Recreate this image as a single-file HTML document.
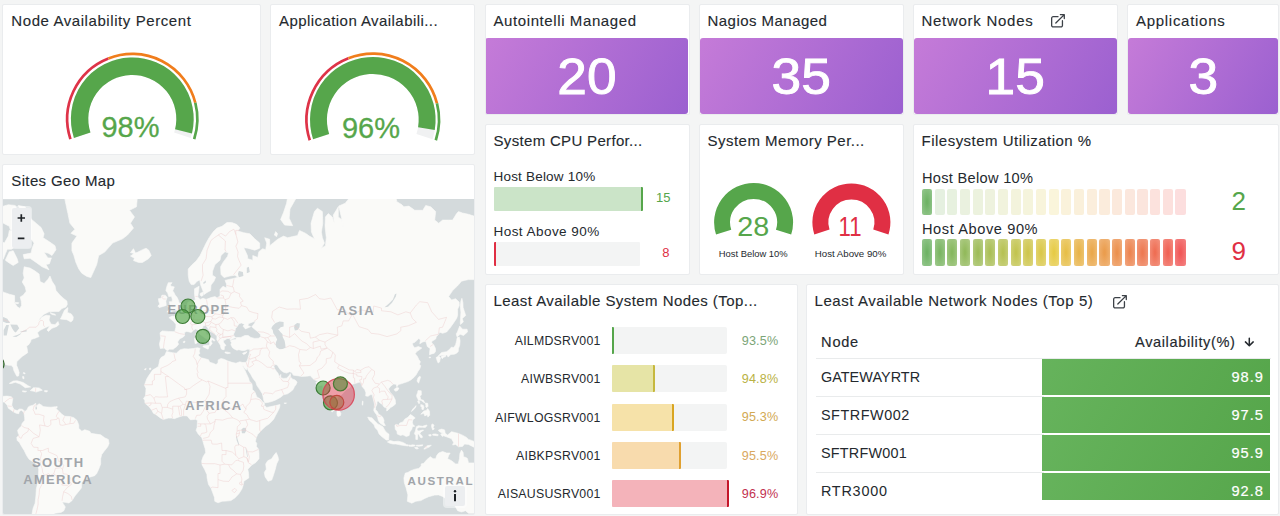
<!DOCTYPE html>
<html>
<head>
<meta charset="utf-8">
<title>Dashboard</title>
<style>
*{box-sizing:border-box;margin:0;padding:0}
html,body{width:1280px;height:516px;overflow:hidden;background:#f4f5f5;font-family:"Liberation Sans",sans-serif;color:#24292e}
.panel{position:absolute;background:#fff;border:1px solid #eaecee;border-radius:2px;overflow:hidden}
.title{position:absolute;left:8px;top:7px;font-size:15px;line-height:18px;color:#24292e;white-space:nowrap;-webkit-text-stroke:.12px #24292e}
.med{-webkit-text-stroke:.15px #24292e}
.abs{position:absolute}
.zb{background:#eceef0}
.zb svg{display:block}
.stat{position:absolute;left:0;right:0;top:33px;bottom:0;border-radius:3px;background:linear-gradient(120deg,#c57bd8,#9b60d0);color:#fff;text-align:center}
.stat span{position:absolute;left:.6px;right:0;top:9.5px;font-size:49.8px;line-height:58px;display:block;transform:scaleX(1.07);-webkit-text-stroke:.9px #fff}
.lbl{position:absolute;white-space:nowrap;color:#24292e}
svg text{font-family:"Liberation Sans",sans-serif}
</style>
</head>
<body>

<!-- Node Availability Percent -->
<div class="panel" style="left:2px;top:4px;width:259px;height:151px">
  <div class="title" style="left:8.3px;letter-spacing:0.577px">Node Availability Percent</div>
  <svg class="abs" style="left:-1px;top:-1px" width="258" height="151" viewBox="2 4 258 151">
    <g fill="none"><path d="M82.18 135.24A52.7 52.7 0 1 1 182.42 135.24" stroke="#f0f1f2" stroke-width="17.4"/><path d="M82.18 135.24A52.7 52.7 0 1 1 183.50 131.41" stroke="#56a64b" stroke-width="17.4"/><path d="M70.43 139.05A65.05 65.05 0 0 1 108.35 58.47" stroke="#de3348" stroke-width="2.7"/><path d="M108.35 58.47A65.05 65.05 0 0 1 195.31 102.77" stroke="#f07d1c" stroke-width="2.7"/><path d="M195.31 102.77A65.05 65.05 0 0 1 194.17 139.05" stroke="#56a64b" stroke-width="2.7"/></g>
    <text x="130.4" y="136.5" text-anchor="middle" font-size="29" fill="#56a64b" stroke="#56a64b" stroke-width=".3">98%</text>
  </svg>
</div>

<!-- Application Availability -->
<div class="panel" style="left:270px;top:4px;width:205px;height:151px">
  <div class="title" style="letter-spacing:0.435px">Application Availabili...</div>
  <svg class="abs" style="left:-1px;top:-1px" width="205" height="151" viewBox="270 4 205 151">
    <g fill="none"><path d="M321.11 136.60A54.35 54.35 0 1 1 424.49 136.60" stroke="#f0f1f2" stroke-width="16.9"/><path d="M321.11 136.60A54.35 54.35 0 1 1 426.43 128.64" stroke="#56a64b" stroke-width="16.9"/><path d="M309.79 140.27A66.25 66.25 0 0 1 348.41 58.20" stroke="#de3348" stroke-width="2.7"/><path d="M348.41 58.20A66.25 66.25 0 0 1 436.97 103.32" stroke="#f07d1c" stroke-width="2.7"/><path d="M436.97 103.32A66.25 66.25 0 0 1 435.81 140.27" stroke="#56a64b" stroke-width="2.7"/></g>
    <text x="371" y="138" text-anchor="middle" font-size="29" fill="#56a64b" stroke="#56a64b" stroke-width=".3">96%</text>
  </svg>
</div>

<!-- Sites Geo Map -->
<div class="panel" style="left:2px;top:164px;width:473px;height:351px">
  <div class="title" style="left:8.3px;letter-spacing:0.365px">Sites Geo Map</div>
  <div class="abs" style="left:0;top:33.5px;width:472px;height:316px;background:#d4dadc;overflow:hidden">
<svg style="position:absolute;left:0;top:0" width="472" height="316" viewBox="3 198.5 472 316">
<path d="M166.5 351.0L172.5 352.2L176.3 352.7L180.2 349.2L184.2 348.2L188.2 348.5L193.2 348.0L197.7 347.2L200.1 348.0L199.1 350.5L199.9 352.9L198.1 354.6L199.7 356.1L201.1 357.3L204.1 358.0L208.5 359.2L209.7 361.8L213.0 362.7L216.0 364.1L218.0 362.5L218.2 359.4L221.0 358.0L224.0 358.7L227.9 360.6L231.9 361.8L235.9 362.7L239.9 361.3L242.5 362.0L243.0 364.8L242.7 365.7L245.0 369.9L246.8 373.9L248.8 378.3L249.2 380.5L251.6 382.7L252.2 384.8L252.4 389.1L254.8 391.2L256.8 396.4L260.1 398.3L262.7 401.6L264.3 402.6L264.3 404.7L266.7 406.9L270.7 406.1L275.7 405.1L280.0 404.0L279.6 406.9L278.4 409.7L275.7 414.8L273.7 418.8L269.7 423.0L265.7 425.8L261.7 429.4L259.7 431.8L257.8 433.8L256.2 437.3L255.4 440.9L256.8 442.9L256.4 445.9L258.6 448.8L259.0 453.1L259.0 458.2L255.8 462.0L251.8 464.5L247.8 468.7L248.6 473.0L248.8 477.4L243.8 480.7L243.4 484.0L241.9 488.6L238.9 493.2L234.9 497.4L230.9 500.1L226.0 500.6L222.0 500.8L218.0 502.3L214.8 500.8L214.4 496.7L212.6 492.0L211.0 487.6L208.5 484.0L207.1 477.4L206.9 474.1L204.5 468.7L202.1 464.5L201.7 460.3L203.1 456.2L205.7 452.0L205.1 448.0L204.1 444.9L202.7 439.9L201.7 436.9L198.1 433.4L196.1 429.8L197.1 426.8L197.3 422.8L197.5 420.0L195.5 418.8L192.2 419.2L190.2 419.2L187.2 415.4L183.2 415.2L180.2 416.0L176.3 417.4L174.3 418.2L171.9 417.6L168.3 417.6L163.3 419.0L160.3 417.4L156.4 414.4L153.4 412.8L151.8 409.7L149.4 406.7L148.0 405.3L145.0 402.8L144.8 399.9L143.5 398.1L145.4 395.4L145.8 391.2L146.0 388.0L144.4 384.8L145.4 382.0L146.8 378.3L148.8 375.0L150.4 372.8L152.6 369.6L156.0 367.6L158.4 366.0L159.0 363.0L159.8 359.0L161.3 356.8L164.7 355.1ZM276.2 452.0L278.0 456.2L278.6 459.3L276.6 463.4L275.3 468.7L273.3 475.2L271.7 479.6L268.1 480.7L265.1 476.3L264.3 471.9L266.3 468.7L265.7 463.4L267.7 460.3L271.7 458.2L273.7 455.1ZM160.3 348.0L159.4 343.7L160.7 337.7L160.0 332.3L162.3 330.4L168.3 330.9L174.7 331.2L175.9 326.7L175.9 323.9L173.7 321.0L168.9 317.1L172.3 315.6L175.3 315.9L175.1 312.8L178.6 313.4L181.4 309.7L185.2 307.5L186.8 304.9L188.0 301.6L192.2 300.6L195.3 299.5L194.5 293.7L194.5 288.3L199.1 285.7L198.7 290.1L198.1 293.7L197.7 296.5L200.1 298.9L203.1 297.8L206.1 298.9L211.0 297.1L215.0 296.1L217.0 297.5L220.0 295.4L220.0 289.0L223.0 285.7L226.5 287.5L226.5 283.4L225.0 279.9L229.9 278.7L233.9 277.9L237.9 276.7L234.9 274.7L229.9 275.5L224.0 277.1L221.0 273.9L220.6 266.3L223.0 261.9L227.5 255.9L228.5 252.6L225.0 251.2L221.0 255.0L220.0 259.7L215.0 264.1L212.6 270.6L212.4 274.7L215.6 276.7L214.0 280.7L211.0 284.5L210.6 290.1L207.1 291.9L204.1 294.0L203.1 290.8L200.7 284.5L199.7 279.5L197.1 280.7L194.1 284.1L191.2 284.1L189.2 280.7L188.2 274.7L188.2 268.5L192.2 264.1L196.1 260.6L200.1 255.0L203.1 248.7L206.1 242.6L209.1 237.2L213.0 231.6L217.0 227.6L222.0 225.8L226.9 222.1L231.9 222.1L236.9 224.0L239.9 227.6L237.9 230.5L243.8 232.2L249.8 233.3L254.8 238.3L259.7 242.6L259.7 247.7L254.8 249.7L247.8 247.7L243.8 247.2L247.4 255.0L247.8 258.3L252.8 259.7L252.8 255.0L257.8 256.9L258.8 251.2L262.7 248.2L265.7 249.2L266.7 242.6L264.7 237.2L269.7 238.8L269.7 245.2L273.7 242.0L277.6 238.8L283.6 235.6L287.6 237.2L292.6 236.1L297.5 235.0L299.5 229.9L305.5 232.8L309.4 235.6L314.4 238.3L311.4 231.6L311.0 222.7L314.4 211.1L317.4 207.7L322.4 211.1L322.8 222.7L321.4 231.6L322.4 237.2L324.4 242.6L321.4 247.7L325.4 245.2L326.3 237.2L325.0 225.8L325.4 216.4L328.3 213.1L332.3 216.4L334.3 222.7L333.3 214.5L338.3 206.3L338.3 216.4L342.2 219.6L343.2 225.8L341.3 216.4L338.7 205.6L345.2 202.7L351.2 195.2L357.2 187.2L377.0 169.4L389.0 178.6L395.5 195.2L396.9 201.2L401.9 204.2L403.9 206.3L408.8 205.6L414.8 209.8L422.8 209.8L425.7 204.9L430.7 206.3L435.7 211.1L434.7 219.6L438.7 222.7L442.6 219.6L448.6 219.6L452.6 219.6L456.6 213.1L458.5 211.1L462.5 212.5L468.5 213.8L476.4 216.4L476.4 279.1L468.5 279.1L464.5 279.9L461.5 280.7L457.6 285.3L452.6 290.1L448.6 296.1L451.6 299.5L455.6 298.2L459.1 301.6L459.3 304.9L457.6 308.7L457.6 315.0L456.6 318.0L453.6 322.4L449.6 328.1L446.6 331.5L442.6 332.8L439.7 331.7L438.1 334.2L436.3 336.3L435.7 338.5L431.9 340.8L431.7 342.4L433.5 343.9L435.5 348.0L435.5 351.0L434.3 352.7L431.7 353.4L429.5 354.2L429.7 351.0L430.1 348.0L427.3 346.0L426.7 343.7L425.7 340.8L422.8 341.4L419.8 343.2L420.4 339.5L418.8 337.9L415.2 341.6L412.2 342.9L413.2 345.5L414.8 347.2L418.4 346.0L421.8 347.5L419.8 349.0L416.8 351.0L415.2 353.2L417.4 355.9L418.8 359.0L420.4 361.3L419.4 363.7L420.8 365.3L419.8 368.3L417.8 371.2L416.0 374.6L413.8 377.0L410.8 379.4L407.9 381.1L404.9 382.0L401.9 383.1L398.5 384.0L396.9 386.3L396.1 383.7L393.5 383.5L390.4 385.9L388.6 388.4L390.0 391.8L393.3 395.4L395.3 399.5L395.5 403.6L392.9 405.7L390.6 407.1L388.0 409.7L386.6 410.4L386.8 407.7L384.0 406.5L382.4 404.0L379.6 402.2L378.4 400.6L377.0 401.0L377.0 403.6L375.6 406.7L375.6 409.3L377.4 411.0L378.6 413.8L380.6 414.8L382.8 416.8L384.0 419.8L383.8 422.2L385.4 425.0L383.8 425.2L380.0 422.6L378.4 420.2L377.6 416.8L376.6 414.2L374.5 411.4L373.7 409.7L374.3 406.7L374.5 403.6L373.5 399.5L372.7 396.4L372.3 394.1L370.1 394.3L368.1 395.8L365.7 395.4L365.9 392.2L364.7 389.1L362.1 385.9L361.1 383.3L360.1 381.6L358.2 382.0L355.2 383.1L352.2 383.7L351.0 385.2L349.8 387.2L347.2 388.4L344.2 391.2L341.9 393.9L339.1 395.8L337.5 397.5L337.7 400.6L337.1 403.6L336.9 407.1L335.7 409.1L333.7 409.9L332.3 411.6L330.3 409.7L329.3 406.7L327.3 402.6L326.3 398.5L324.4 395.4L323.4 391.6L323.0 388.7L322.8 384.8L321.4 384.8L319.4 385.2L317.8 384.8L315.8 382.0L318.0 380.5L314.4 379.4L312.2 377.2L310.4 375.2L306.5 375.7L301.5 375.9L297.5 375.2L293.5 374.8L291.6 372.1L289.6 371.2L286.6 372.6L283.6 371.7L280.6 369.6L278.6 366.7L277.2 364.4L275.3 364.1L273.7 365.3L274.7 368.3L276.6 371.0L278.0 372.8L279.2 376.1L280.8 373.9L280.8 377.2L283.6 377.9L286.6 377.7L289.6 374.6L290.4 373.2L290.6 376.6L292.6 378.7L295.1 379.4L297.1 381.6L296.1 384.0L294.5 386.1L293.1 389.1L290.6 391.2L287.6 393.3L283.6 394.3L280.6 396.8L275.7 399.5L271.7 401.0L267.7 402.0L264.7 402.2L263.7 399.5L263.1 396.4L262.3 393.3L259.7 389.1L256.8 384.8L255.8 381.6L252.8 377.7L250.8 373.9L247.8 369.4L247.4 366.0L246.4 369.4L244.4 367.6L243.0 365.0L242.7 362.0L246.2 361.8L247.4 359.7L248.0 357.8L249.0 354.2L249.8 351.0L249.8 348.7L247.4 348.7L244.8 350.0L241.9 350.0L238.9 349.2L236.9 349.7L234.3 348.5L232.5 347.2L230.9 344.2L231.5 342.1L230.3 340.3L232.9 339.3L235.9 339.0L236.3 337.1L240.9 336.9L244.8 335.0L248.2 335.0L250.8 336.9L254.8 337.9L258.8 337.7L260.9 336.1L260.3 333.7L257.4 330.9L253.8 328.1L251.8 326.2L254.2 323.3L255.8 320.4L252.8 321.5L248.8 323.0L247.8 325.0L250.6 326.2L248.2 327.3L245.4 328.4L243.0 325.6L244.6 323.9L241.5 322.4L238.9 323.3L237.3 325.9L235.5 328.1L234.9 330.9L233.5 333.7L234.3 336.1L235.9 337.1L233.9 337.7L231.9 338.7L230.3 339.5L229.9 338.2L227.9 337.9L226.0 338.5L225.0 339.8L223.6 339.0L223.4 341.6L224.4 342.9L226.0 345.0L224.4 346.0L224.2 349.2L222.8 349.2L221.4 348.5L220.6 346.2L220.4 344.7L219.4 343.2L218.0 341.1L216.8 339.0L217.0 336.1L216.0 334.5L213.0 332.3L210.0 330.6L208.1 328.1L207.1 326.2L205.5 325.0L202.9 325.6L202.9 328.7L205.3 330.9L206.5 333.9L210.0 335.3L210.0 336.6L214.0 338.7L215.0 340.0L214.0 340.6L212.0 339.0L211.2 341.1L212.2 342.9L211.0 344.4L210.0 345.7L209.5 345.2L209.7 341.6L208.7 340.0L206.7 338.5L204.1 337.1L202.5 335.5L200.1 333.9L199.1 332.3L198.5 329.8L195.7 328.4L193.2 330.1L191.2 332.0L188.2 331.2L186.2 330.9L184.4 332.3L184.6 335.3L182.6 336.9L179.8 338.2L177.6 341.6L178.6 343.7L176.8 346.0L174.7 347.5L173.3 348.7L169.5 348.7L167.5 350.2L165.7 349.0L164.3 347.5ZM166.9 311.6L171.3 310.9L175.3 309.7L179.2 309.4L181.0 308.1L179.8 307.1L181.6 303.6L179.0 302.2L178.6 300.2L177.2 297.1L175.1 294.4L173.9 291.9L172.7 290.4L174.3 286.4L171.3 285.7L170.3 284.5L172.1 282.2L168.3 282.2L166.7 286.4L165.9 290.1L167.7 292.6L168.7 296.1L171.5 295.8L172.3 298.9L172.1 301.2L169.3 301.2L169.9 304.2L167.9 306.2L171.3 307.5L172.3 308.1L169.3 308.7ZM166.3 304.9L165.9 300.6L167.1 296.8L165.3 294.7L161.9 294.7L161.1 297.8L158.4 298.2L158.8 301.2L159.8 303.6L157.8 305.5L159.2 307.1L162.3 306.2ZM133.5 260.1L138.5 261.9L142.5 261.9L148.4 258.3L151.2 255.0L148.8 249.7L146.0 247.7L141.5 249.7L137.9 251.6L135.5 252.6L133.5 248.2L130.5 252.1L134.1 253.1L130.5 255.5L134.5 257.8ZM90.8 277.1L93.8 270.6L96.7 264.1L98.7 255.0L104.7 251.6L112.6 242.6L122.6 238.3L127.5 234.5L133.5 227.6L130.5 222.7L134.5 216.4L129.5 209.8L136.5 206.3L137.5 195.2L138.5 159.3L43.1 159.3L39.1 187.2L47.0 188.9L60.9 191.3L64.9 199.0L67.9 213.1L69.9 222.7L74.9 228.7L70.9 232.8L76.9 235.6L71.9 242.6L71.9 250.2L73.9 255.0L75.9 261.9L78.8 268.5L81.8 272.7L86.8 275.9ZM-4.7 364.1L5.3 363.9L8.3 364.8L11.2 364.8L13.2 367.1L13.8 369.9L15.2 372.8L16.8 375.7L18.6 375.4L19.2 372.1L18.0 368.3L16.6 364.8L16.8 361.3L19.2 358.7L22.2 355.9L25.2 353.9L27.7 352.2L27.2 348.5L26.6 345.5L28.7 344.2L30.7 341.1L31.1 339.0L35.1 337.7L39.1 336.1L38.1 333.7L37.5 332.3L40.1 329.8L44.6 327.6L47.0 326.4L50.0 325.3L47.0 329.5L48.4 330.9L52.0 327.8L57.0 325.9L59.0 323.9L58.0 321.0L55.0 324.2L51.0 323.6L49.0 319.5L50.0 315.3L46.0 314.7L42.1 316.5L38.1 321.0L40.1 317.4L44.1 313.7L49.0 311.3L55.0 310.9L59.0 310.9L61.9 308.1L65.9 306.5L67.3 303.9L66.9 300.6L63.9 298.2L60.0 294.7L56.0 290.1L55.0 285.3L52.0 280.7L50.0 275.5L48.0 278.7L44.1 283.0L40.1 281.1L39.1 273.5L35.1 270.6L30.1 267.6L24.2 266.3L23.2 272.7L24.2 277.5L22.2 281.5L25.2 286.4L26.2 290.8L23.2 294.7L20.2 296.5L21.2 300.6L21.6 304.9L19.8 307.8L17.2 306.2L14.6 302.2L14.6 295.1L9.3 293.7L4.3 291.9L-4.7 288.3ZM60.4 318.6L66.9 319.2L70.9 321.5L72.9 319.5L73.3 316.5L71.3 313.4L67.5 311.9L67.9 307.1L64.5 309.7L61.9 315.6ZM49.0 269.3L42.1 266.3L36.1 261.9L30.1 257.8L24.2 258.3L23.2 254.1L31.1 252.6L32.1 247.7L34.1 242.6L30.1 237.2L24.2 230.5L21.2 228.7L16.2 229.3L10.3 229.3L9.3 225.8L3.3 222.7L0.3 216.4L1.3 206.3L8.3 204.2L15.2 204.9L18.2 211.1L23.2 210.4L27.2 213.1L31.1 218.4L36.1 222.7L41.1 227.0L44.1 233.3L43.1 237.2L49.0 241.0L55.0 245.2L56.0 249.2L52.0 255.0L48.0 252.6L44.1 252.1L48.0 257.4L51.4 257.4L49.4 263.3L46.0 264.1ZM5.3 259.7L9.3 251.2L13.2 250.2L17.2 258.3L18.2 261.9L13.2 265.0L8.3 261.9ZM-4.7 259.7L3.3 258.7L5.7 252.6L7.3 248.7L11.6 248.7L16.2 245.2L16.4 237.2L15.2 230.5L9.3 229.9L8.3 235.6L4.3 242.6L-4.7 237.2ZM-4.7 198.3L19.2 198.3L19.2 159.3L-4.7 159.3ZM9.3 382.9L13.2 380.5L17.2 380.3L23.2 382.0L28.1 385.2L30.7 386.5L25.2 387.2L23.2 385.7L20.2 383.5L15.2 381.8L11.2 383.1ZM30.3 390.1L33.5 387.2L39.1 387.4L42.3 389.7L39.1 390.6L36.1 391.6L34.1 390.8ZM22.6 390.3L26.6 390.8L25.2 391.6L22.6 391.2ZM44.6 390.1L47.6 390.3L47.0 391.4L44.6 391.2ZM-4.7 401.0L4.3 401.6L7.3 404.7L8.3 407.7L11.2 409.7L13.2 411.2L16.2 412.8L18.8 413.2L19.2 411.2L21.2 409.7L23.2 411.2L24.2 413.8L24.6 416.8L24.8 419.8L22.2 422.8L21.2 425.8L19.2 427.8L17.6 429.8L18.2 432.8L19.2 434.5L16.8 436.9L17.2 439.9L19.6 442.3L21.6 445.9L24.2 450.0L26.6 455.1L29.1 458.8L34.1 462.0L38.1 465.1L38.7 468.7L38.5 475.2L37.9 481.8L36.3 488.6L35.9 495.5L35.1 502.7L33.1 507.7L32.1 512.8L31.5 523.4L49.0 523.4L53.0 518.0L54.6 512.8L60.9 512.0L63.9 510.2L65.3 506.4L62.1 501.5L64.9 501.8L68.9 502.5L71.9 500.3L74.9 495.5L77.8 492.0L81.4 487.4L81.8 481.8L84.8 478.5L88.8 476.9L94.7 475.2L96.7 473.0L98.7 468.7L100.7 463.4L100.7 458.2L101.7 454.1L104.3 450.6L107.7 446.3L109.1 442.9L108.3 438.9L104.7 437.3L100.7 434.3L95.7 433.6L90.8 432.8L89.8 430.8L84.8 429.2L81.8 430.8L78.8 427.8L78.8 424.4L76.9 419.8L73.9 417.2L69.9 416.0L64.9 415.8L61.9 413.8L59.0 410.8L56.0 408.1L55.0 406.3L51.0 406.7L47.0 406.5L43.1 406.1L42.1 404.9L39.1 403.2L36.1 405.7L35.7 402.8L33.1 404.7L29.5 405.7L28.1 406.7L27.2 409.1L25.2 410.8L24.4 410.4L22.2 408.7L19.6 408.5L17.2 410.1L14.8 409.3L13.2 407.7L11.8 404.7L12.2 401.6L12.8 397.7L11.2 396.2L7.3 395.6L3.3 395.8L-4.7 395.4ZM405.3 472.6L403.9 477.4L404.3 482.2L406.1 487.4L407.9 494.4L407.3 500.8L411.8 502.7L415.8 500.8L420.8 500.1L424.8 497.9L428.7 496.2L434.7 494.6L438.7 494.4L442.6 496.0L445.6 497.9L447.6 502.3L449.6 503.2L451.6 497.9L452.6 501.5L453.6 504.0L455.6 506.4L457.6 510.2L461.5 511.5L465.5 510.2L468.5 512.8L480.4 512.8L480.4 462.4L468.5 462.4L467.5 458.2L466.5 457.2L463.5 456.2L463.1 452.0L461.5 449.6L459.9 453.1L459.5 458.2L458.2 463.4L455.6 463.4L451.6 460.3L447.6 458.2L448.6 455.1L450.2 452.5L446.6 452.5L442.6 451.0L438.7 452.5L436.7 455.1L435.7 458.2L433.1 458.2L430.3 456.2L426.7 459.3L423.8 462.8L421.2 463.4L421.2 465.5L418.8 467.9L414.8 468.7L410.8 470.2L407.9 471.9ZM336.9 408.5L337.9 408.5L339.7 410.8L340.9 413.0L340.5 415.0L338.5 415.9L337.3 415.4L336.9 412.8L337.1 410.4ZM367.7 416.6L372.1 417.4L374.5 420.2L377.8 423.4L380.0 424.4L383.0 426.4L384.6 429.4L386.0 431.4L389.0 433.8L388.6 439.5L386.2 439.5L382.0 436.3L379.0 433.4L377.6 429.8L375.1 427.2L374.1 424.2L371.5 421.8L369.1 419.4ZM387.4 441.5L390.0 439.9L393.9 441.1L398.3 440.7L402.3 441.7L405.9 443.5L405.7 445.3L400.9 444.5L395.9 443.5L392.9 443.5L389.8 442.7ZM405.9 444.3L408.3 444.3L408.1 445.5L406.1 445.3ZM408.8 444.5L410.2 444.5L410.0 445.7L408.8 445.7ZM410.4 444.7L412.8 444.3L415.2 444.7L414.8 445.5L411.8 445.9L410.4 445.9ZM416.4 444.7L418.8 444.7L422.8 444.3L422.4 445.3L418.8 445.7L416.4 445.5ZM414.8 447.0L417.2 446.7L418.4 448.0L416.8 448.6L414.8 447.6ZM423.8 448.6L425.7 446.3L427.7 445.1L431.3 444.7L429.7 446.3L426.7 447.6L424.8 448.6ZM394.9 424.8L396.1 423.8L398.9 424.8L399.7 422.6L402.9 421.4L404.9 418.6L407.9 416.8L410.4 414.0L411.8 414.8L415.2 417.4L412.8 419.2L412.4 421.8L412.8 423.8L414.8 425.8L412.4 426.2L411.8 428.8L409.8 431.4L409.2 434.9L406.3 436.1L402.9 434.3L400.5 434.9L397.3 433.6L396.9 430.8L395.3 428.8ZM416.4 426.2L418.4 425.2L422.4 425.8L426.3 424.6L427.1 425.0L425.3 427.0L422.8 426.8L419.4 426.8L417.2 427.8L417.0 429.4L418.8 430.6L422.4 429.6L423.6 429.8L420.8 431.4L419.8 433.2L421.4 434.5L422.6 436.7L421.0 437.5L419.8 435.9L418.6 433.4L417.6 434.3L417.6 438.9L415.8 438.9L415.8 434.9L414.4 433.2L415.4 430.4ZM418.0 390.1L421.2 390.3L421.4 394.3L420.0 395.8L420.8 399.1L423.4 399.7L424.8 402.4L423.2 401.6L421.8 400.3L420.2 399.7L418.2 399.9L418.0 398.5L416.8 396.4L416.6 394.8L417.6 392.2ZM420.8 413.8L423.8 410.6L426.3 409.9L427.7 408.1L429.5 410.8L429.7 414.8L427.9 416.6L427.3 414.2L424.8 415.4L423.8 412.8ZM425.3 402.6L427.7 402.8L428.1 405.7L426.7 407.3L425.7 406.1L425.9 404.7ZM420.8 404.0L423.2 404.7L424.0 406.7L423.2 409.3L421.8 408.7L422.0 406.7L420.8 406.1ZM411.4 411.0L413.8 409.1L415.8 406.5L416.0 405.1L414.8 406.5L412.8 408.5ZM417.6 400.8L419.4 400.8L419.8 402.6L418.8 403.2L418.2 402.0ZM419.8 375.7L420.6 376.6L418.6 382.7L417.0 380.5L418.0 377.2ZM394.3 388.7L396.9 387.0L398.9 387.6L397.9 389.7L395.9 390.8L394.3 389.7ZM436.1 357.1L438.7 355.6L440.5 357.3L439.5 361.6L438.1 362.5L437.1 360.1ZM441.7 355.4L445.6 354.6L445.6 356.1L443.6 356.8L442.2 358.2L441.3 356.8ZM438.5 355.1L441.7 352.0L446.6 351.2L450.0 348.5L451.2 346.7L453.8 347.0L455.6 344.2L456.6 340.3L457.2 337.1L459.3 336.6L460.1 340.3L459.7 344.7L458.5 348.0L458.2 351.2L456.2 352.9L454.2 353.7L450.6 353.9L450.2 354.6L448.2 356.6L446.8 354.4L442.6 354.6L438.7 355.6ZM457.0 336.3L456.2 333.4L457.4 331.5L459.7 325.6L462.5 328.7L467.1 328.7L467.5 331.5L463.5 335.0L460.1 333.7L458.3 335.5ZM460.5 323.9L463.3 321.5L462.3 318.0L465.7 315.0L463.1 307.1L462.9 302.2L461.9 297.8L460.9 300.6L460.3 305.5L460.9 311.9L460.5 318.0L460.3 322.4ZM438.7 429.4L441.7 428.6L444.6 429.4L445.2 432.8L447.6 434.5L451.6 431.2L455.6 432.2L458.5 433.0L462.5 434.7L466.5 436.9L468.5 438.9L471.5 439.9L476.4 441.9L476.4 448.0L468.5 443.9L464.5 443.5L462.5 445.9L458.5 446.3L455.6 443.9L452.6 444.5L453.6 441.9L451.6 438.3L447.6 436.7L443.6 435.3L442.2 435.9L440.7 433.6L443.6 432.6L441.3 432.2L438.7 430.6ZM431.7 424.0L432.7 423.4L434.1 424.8L433.1 426.8L434.3 428.4L432.7 429.4L431.9 427.4L431.5 425.8ZM432.7 433.6L435.7 433.4L438.3 434.3L437.7 435.3L434.7 434.9L432.7 434.7ZM428.7 434.3L431.1 434.1L431.1 435.5L429.1 435.5ZM202.9 345.5L205.1 345.0L209.3 344.7L208.5 348.0L208.1 348.7L203.3 346.5ZM194.5 337.7L197.3 337.1L197.7 340.3L197.1 342.6L195.1 343.2L194.7 340.3ZM195.3 333.7L196.9 332.3L197.1 335.0L196.5 336.6L195.5 335.5ZM225.0 351.5L227.9 351.7L230.5 352.5L227.9 353.2L225.2 352.5ZM242.5 352.9L243.8 352.2L247.0 351.2L245.8 352.9L243.8 353.9ZM200.1 292.9L203.1 291.5L203.3 294.7L201.7 295.8L200.1 294.7ZM280.6 219.0L284.6 224.6L292.7 225.2L289.2 217.7L290.0 208.4L294.5 200.5L301.5 188.9L313.4 178.6L290.6 178.6L286.6 202.7L283.6 211.8ZM274.3 234.5L276.6 236.1L277.6 233.3L275.7 231.1ZM50.0 312.2L55.0 313.7L55.6 314.7L52.0 314.0ZM284.2 402.4L286.6 402.4L286.0 403.0L284.4 403.0ZM144.6 368.5L146.2 368.0L145.6 369.4L144.8 369.4ZM149.4 367.8L150.8 367.6L150.6 369.2L149.6 369.2ZM183.0 341.4L185.0 340.6L184.6 342.1L183.4 342.1ZM55.2 406.3L57.2 406.1L57.0 407.5L55.2 407.5ZM15.2 301.9L18.8 302.2L18.2 303.2L15.6 302.9ZM22.6 375.9L23.8 376.1L24.0 378.3L22.8 377.9ZM23.4 372.1L25.2 372.6L24.8 373.4L23.2 372.8ZM362.5 400.6L363.1 401.0L362.7 404.7L362.1 404.2ZM429.1 356.6L430.5 356.6L430.5 357.3L429.1 357.3ZM18.2 204.9L25.2 206.3L26.6 210.4L21.2 211.1Z" fill="#fafaf8" stroke="#fafaf8" stroke-width=".6" stroke-linejoin="round"/>
<path d="M272.7 325.3L275.7 322.4L279.6 321.0L283.6 321.5L283.6 325.9L280.6 326.7L279.6 328.1L278.2 328.7L280.6 331.7L282.6 333.7L282.6 336.3L283.6 338.2L284.6 340.3L285.2 343.4L285.6 347.2L282.6 348.5L279.6 348.7L276.6 347.0L275.5 344.2L276.0 341.6L277.2 339.0L275.3 335.5L273.3 332.8L272.7 329.5L271.3 327.8ZM294.5 324.4L297.1 322.4L299.9 323.0L299.5 326.7L297.5 329.5L294.9 330.1L294.1 327.3ZM384.6 306.8L388.0 306.2L392.0 302.2L395.9 296.1L396.5 292.9L394.9 293.7L392.9 298.9L389.0 302.9L386.0 305.5ZM-4.9 321.8L-0.7 318.6L3.3 316.5L7.3 318.3L10.1 322.4L6.3 322.4L3.3 321.2L-0.7 322.1ZM3.7 335.0L6.7 335.0L8.9 324.4L6.3 324.4L3.7 329.5ZM10.3 323.9L17.2 324.2L19.2 327.8L15.8 332.0L14.2 330.9L12.2 328.1ZM12.4 336.1L17.2 334.5L21.4 332.6L20.2 333.9L16.2 336.6ZM19.6 331.5L26.6 329.2L26.6 330.9L21.2 331.7ZM241.5 428.8L243.4 427.2L245.8 427.4L246.2 430.2L244.8 432.8L241.9 432.8ZM238.9 276.7L243.4 275.5L242.9 271.4L238.9 270.6L237.9 273.5ZM246.8 272.7L249.8 271.4L248.8 266.3L246.8 267.2ZM236.3 434.9L237.1 436.9L239.3 444.3L238.7 444.9L236.7 439.9L236.1 436.3ZM245.8 447.2L247.0 451.0L247.8 456.6L247.2 456.6L246.4 452.0L245.6 448.0ZM203.1 282.2L205.7 279.9L205.9 281.9L203.7 283.4ZM35.5 406.1L36.7 406.1L37.1 408.7L35.5 409.1Z" fill="#d4dadc"/>
<path d="M173.9 352.7L174.9 357.8L175.9 359.7L172.3 361.1L170.9 362.7L167.3 365.0L160.9 367.8L160.9 370.1M160.9 370.1L160.9 373.9L154.4 373.9L154.4 379.4L152.4 380.5L152.4 384.2L144.4 384.2M160.9 371.0L168.7 376.1L181.8 385.7L184.6 387.4L184.8 389.1L186.6 388.9L186.6 393.5M168.7 376.1L165.3 376.1L167.3 394.3L167.7 396.4L159.4 396.6L155.4 396.2L154.0 397.9M154.0 397.9L150.4 394.1L145.4 395.4M154.0 397.9L155.6 402.8L151.0 402.4L145.0 402.8M155.6 402.8L160.7 402.8L162.3 407.3L163.1 406.9L167.3 406.9M148.4 405.7L151.0 404.2L151.0 402.4M151.8 409.7L156.4 407.7L157.8 410.8L155.4 414.0M157.8 410.8L161.3 412.6L163.3 419.0M162.3 407.3L161.7 412.6M184.8 389.1L189.8 388.0L193.2 385.2L202.1 379.4L206.5 381.4L208.1 380.5L226.0 388.0M195.3 348.2L194.7 352.9L193.2 355.9L196.1 359.9L197.1 364.1L197.9 364.8L196.9 368.5L198.1 372.1L197.1 373.2L198.1 377.2L202.1 379.4M201.1 357.3L198.7 360.9L197.1 364.1M227.9 361.1L227.9 382.7L227.9 387.0L226.0 387.0L226.0 396.0M227.9 382.7L251.6 382.7M208.1 380.5L210.0 385.9L209.1 393.7L205.3 400.1L206.5 402.6M226.0 396.0L223.0 399.5L223.8 405.1L223.8 405.9M185.4 404.2L186.4 400.6L192.2 401.6L196.1 402.0L202.1 401.2L205.3 400.1M186.6 393.5L185.2 396.4L179.2 397.5L178.6 397.7L174.3 399.1L169.7 401.2L167.7 404.0L167.3 406.9M167.3 406.9L172.7 408.7L172.7 405.7L177.2 405.7L180.0 405.7L183.0 403.8L185.4 404.2M178.6 397.7L182.6 402.8L183.0 403.8M172.7 408.7L172.9 412.0L171.9 414.8L172.5 417.6M178.2 405.7L179.2 410.8L179.6 414.2L180.6 415.6M180.0 405.7L181.4 409.7L181.6 415.4M185.4 404.2L183.6 409.7L183.6 415.0M195.3 418.2L196.7 414.8L200.5 414.6L203.1 410.8L205.7 405.7L206.5 402.6M206.5 402.6L208.3 407.7L205.9 408.5L209.1 412.8L207.1 415.8L207.5 418.6L210.4 423.4M209.1 412.8L215.2 411.8L216.0 409.7L220.0 408.7L223.8 405.9L225.4 410.4L228.3 412.2L232.7 417.4M210.4 423.4L215.2 420.8L215.2 419.0L222.8 419.6L227.9 417.8L232.7 417.4M225.4 410.4L227.9 407.1L233.9 408.9L237.9 407.1L242.9 403.6L244.2 406.3L246.0 408.7M255.0 391.2L251.8 393.3L250.8 398.9L250.0 402.2L246.0 406.1L246.0 408.7L243.8 411.8L247.2 414.4L248.4 417.0L249.6 418.6M250.8 398.9L255.8 398.3L259.4 399.1L262.5 402.6M262.5 402.6L261.3 405.7L263.3 405.9L264.3 404.7M263.3 405.9L263.7 408.7L265.7 409.7L271.7 411.8L273.7 411.8L267.7 417.8L261.7 419.4L259.7 420.0L256.8 421.0L249.8 419.0L249.6 418.6M273.7 411.8L275.7 408.7L275.7 405.1M259.7 420.0L259.7 429.6L260.7 431.2M232.7 417.4L236.9 419.0L239.5 420.8L239.9 420.4L245.8 419.4L249.6 418.6M245.8 419.4L247.8 424.4L245.8 427.4L245.6 429.8M245.6 429.8L253.2 434.1L256.2 437.3M239.5 420.8L240.5 423.4L237.3 426.2L237.1 430.6L236.3 433.4L236.3 434.7L236.7 436.9M245.6 429.8L238.9 429.8L239.5 432.6L238.7 435.5L236.7 436.9M237.1 430.6L238.9 429.8M236.3 433.4L239.5 432.6M239.5 444.3L243.6 446.7L245.8 447.0L247.6 451.2L252.8 451.4L258.6 448.8M239.5 444.3L235.7 444.9L234.7 446.5L235.1 450.0L235.9 454.9L232.3 451.6L226.0 450.0L226.0 454.1L222.0 454.1L222.0 460.7L224.8 463.7M202.7 439.9L204.1 439.7L211.2 439.7L212.0 443.5L217.0 443.7L221.6 442.5L222.0 450.0L226.0 450.0M203.1 437.9L205.1 437.5L208.7 436.5L210.4 431.8L213.6 428.8L214.0 424.8L215.2 420.8M197.7 423.2L200.7 423.4L204.7 423.4L210.4 423.4M197.7 425.8L200.7 425.8L200.7 423.4M200.3 435.7L201.7 432.8L204.1 432.6L206.9 431.6L206.5 428.6L205.9 425.0L204.7 423.4M201.7 463.0L206.1 463.2L214.8 463.2L220.0 464.5L224.8 463.7L228.5 464.1M220.0 464.5L220.0 473.0L218.0 473.0L218.0 479.1L218.0 487.2L212.0 486.5L211.0 487.6M218.0 479.1L223.4 480.7L228.9 480.9L231.9 476.5L236.7 473.4L240.5 473.9L241.9 478.5L241.5 481.6L241.9 483.6L243.6 483.8M228.5 464.1L231.9 464.3L235.7 460.1L238.7 459.5L238.7 460.3L243.4 461.8L243.8 465.5L243.2 469.8L240.5 473.9M238.7 458.2L243.8 456.2L243.6 446.7M243.8 456.2L246.8 457.2L248.4 461.3L249.4 456.2L247.6 451.2M246.8 457.2L248.4 462.4L251.4 464.1M228.5 464.1L230.3 467.7L233.3 469.8L236.7 473.4M231.9 489.9L234.9 487.9L236.7 489.7L234.3 492.3L231.9 489.9M241.5 481.6L239.9 481.8L239.5 483.6L241.9 484.7L241.9 483.6M235.9 454.9L238.7 458.2M160.7 335.3L165.3 335.8L164.3 341.1L163.7 345.5L163.5 347.5M174.7 331.2L179.6 333.1L184.6 333.9M183.2 308.4L186.6 311.9L190.2 313.4L194.5 315.0L193.3 319.2M193.3 319.2L190.2 323.0L192.2 324.2L191.8 327.0L193.2 330.1M192.2 324.2L196.1 323.9L199.1 321.5L202.5 321.0L205.5 322.4L205.5 325.0M192.2 300.9L192.2 304.9L190.2 306.2L190.2 309.4L190.2 313.4M185.0 307.5L187.8 307.5L190.2 309.4M195.3 295.8L197.7 296.1M206.5 299.2L207.3 303.9L208.1 308.7L207.7 309.1M207.7 309.1L202.3 310.9L205.7 315.9L204.1 319.5L199.1 319.5L197.3 319.5L193.3 319.2M207.7 309.1L211.8 310.6L215.6 313.4L223.0 314.7M205.7 315.9L211.8 316.2L212.4 318.0L211.0 321.0L210.2 321.2L205.5 322.4M211.8 316.2L215.6 313.4M212.4 318.0L215.6 318.6L219.0 316.5L222.4 316.8M217.4 297.5L223.6 297.5L225.0 299.2L225.8 303.2L225.2 307.1L226.2 309.4L223.0 314.7M220.0 291.9L222.0 290.4L227.9 290.8L231.1 292.9L234.3 291.2L233.3 286.8L232.5 286.4L233.9 278.7M223.6 297.5L223.4 295.4L220.6 294.4M225.0 299.2L228.9 297.8L231.1 292.9M226.5 284.9L232.5 286.4M234.3 291.2L239.7 293.3L239.5 296.1L243.2 300.6L240.5 301.9L241.5 305.2L246.6 306.5L249.0 310.6L253.8 312.2L258.0 313.1L257.4 318.3L254.2 320.7M225.2 307.1L228.5 305.8L232.3 306.8L239.1 307.8L241.5 305.2M223.0 314.7L222.4 316.8L227.7 318.9L231.1 317.1L234.3 317.4L237.9 322.7M231.1 317.1L234.1 321.2L234.3 325.3L237.3 325.9M222.4 316.8L223.8 318.3L220.4 322.7L218.6 323.6L215.8 324.2L210.2 321.2M223.4 329.0L227.9 330.4L231.9 329.2L235.1 330.4M218.6 323.6L220.8 327.3L223.4 329.0L222.8 332.8L222.8 336.9L230.5 335.8L233.9 335.0M218.0 341.1L220.0 337.9L222.8 336.9L226.9 336.3L230.5 335.8L231.1 336.9L229.9 338.2M205.5 325.0L208.5 325.3L211.0 322.4M215.8 324.2L216.0 327.0L210.0 326.2L209.7 329.0L213.2 332.3L215.0 333.7M216.0 327.0L217.0 328.7L216.4 330.9L218.6 332.8L216.8 335.3M218.6 332.8L221.0 334.2L222.8 332.8M220.0 337.9L219.0 336.3L219.2 335.0L221.0 334.2M201.1 280.7L203.1 274.7L202.5 270.6L202.5 264.1L206.1 258.3L207.1 249.7L211.0 239.9L214.4 237.2L218.4 234.5L221.0 232.8L225.6 235.6L229.5 231.1L233.9 228.7L235.9 233.9L235.7 229.9L239.5 229.9M218.4 234.5L225.4 240.5L225.0 249.2L226.2 251.2M235.9 233.9L237.9 241.5L235.9 245.7L238.1 251.6L237.5 255.9L238.9 259.7L241.1 264.6L233.5 274.3M163.5 295.4L161.9 297.1L163.7 298.5L165.7 298.5M260.7 336.3L264.7 337.4L267.3 341.1L266.3 345.5L267.3 347.5L262.5 347.7L257.8 348.5L253.8 348.5L251.2 350.0L249.8 350.5M262.5 347.7L260.3 349.5L259.7 354.4L255.4 356.8L256.2 359.7L251.8 361.3L253.8 363.7L252.8 364.8L249.8 366.7L247.8 366.2M249.0 357.3L248.8 361.3L247.8 366.0M255.4 356.8L249.8 358.7L249.0 357.3L250.6 353.9L249.6 353.9M246.2 361.8L247.6 366.0M267.3 347.5L269.7 351.2L268.7 355.4L270.1 357.8L273.3 360.6L273.1 362.7L274.7 364.8M256.2 359.7L258.6 360.4L261.7 362.3L267.1 366.7L270.7 366.9L272.7 368.3L274.5 368.3M270.7 366.9L272.5 364.6L273.7 364.8M263.3 394.5L264.1 392.4L266.7 392.4L270.7 392.9L272.7 393.3L275.3 390.8L281.6 389.1L287.6 387.0L289.0 382.7L288.0 381.1L282.8 380.7L280.8 377.9M281.6 389.1L283.8 394.1M288.0 381.1L289.6 378.1L290.4 376.3M279.2 376.6L280.0 377.0M285.4 347.2L289.6 345.2L294.5 346.2L299.9 349.0L298.5 354.2L299.3 361.3L301.1 362.5L299.3 365.3L303.1 371.2L303.9 372.6L300.7 375.7M299.3 365.3L310.0 365.0L316.0 360.4L317.4 356.6L319.6 354.6L320.6 350.5L326.5 348.0L327.1 347.5M299.9 349.0L306.5 349.7L310.4 347.0L313.4 348.0L320.4 345.7L321.0 348.7L327.1 347.5M313.8 379.0L319.4 377.2L317.4 369.9L322.0 367.6L326.3 362.5L326.3 358.2L330.9 357.3L332.9 351.7M327.1 347.5L332.9 351.7L335.3 354.6L334.7 361.3L339.3 364.4L337.5 367.6L343.8 370.8L348.8 372.6L353.4 373.0L353.4 369.6M339.3 364.4L345.2 367.3L349.2 369.4L353.4 369.6L354.8 371.0L356.8 368.9L360.5 369.9L365.1 367.1L369.1 366.2L371.7 368.9M354.8 371.0L356.8 372.3L361.1 371.9L360.5 369.9M353.4 373.0L356.8 373.9L356.8 375.4L361.9 376.1L361.5 379.0L359.5 379.4L360.1 380.7L361.7 383.7L361.7 385.5M353.4 373.0L353.4 377.2L354.6 377.7L354.8 382.7L355.2 383.1M371.7 368.9L367.5 373.9L366.3 375.7L365.3 378.5L363.7 378.3L363.5 382.0L362.3 384.0L361.7 383.7M371.7 368.9L374.5 370.5L374.5 374.1L372.3 378.3L375.1 382.7L379.4 383.5L377.2 386.3L373.5 387.6L371.9 390.1L374.1 394.3L373.5 397.0L375.4 403.6L374.3 407.3M377.2 386.3L379.6 388.0L379.4 392.2L381.2 390.8L385.0 390.6L386.6 394.3L388.2 396.4L387.4 398.9L382.8 399.1L381.8 400.6L382.8 404.2M379.4 383.5L381.4 381.6L387.6 379.8L390.4 380.9L392.9 383.7M381.4 381.6L385.0 386.1L387.4 389.7L392.0 395.0L392.0 398.5L388.8 404.2L385.8 406.9M387.4 398.9L392.0 398.5M377.2 415.0L379.2 416.2L381.2 415.4M396.1 423.8L396.9 425.8L400.9 424.8L406.5 425.0L408.5 419.2L412.0 419.4M458.5 433.0L458.5 446.1M424.8 446.5L426.7 446.3L426.9 447.0M352.8 314.4L359.1 326.2L368.1 329.0L371.1 332.8L379.0 333.7L387.0 336.1L396.9 333.4L400.9 330.1L400.7 326.7L408.3 325.3L416.4 321.8L412.4 318.0L410.2 312.5M352.8 314.4L361.1 309.4L373.1 311.9L373.7 305.5L381.4 307.5L381.6 310.3L391.0 311.3L397.9 314.4L405.9 311.3L410.2 312.5M410.2 312.5L416.4 304.5L419.8 301.2L427.7 302.2L431.7 311.3L438.5 318.9L446.6 316.8L442.6 326.7L439.3 327.3L438.7 332.6L437.9 333.9M437.9 333.9L432.7 335.0L430.5 335.5L425.3 340.3M430.1 346.0L433.3 343.9M274.7 322.1L271.7 317.1L272.5 310.9L279.2 306.5L287.0 308.7L294.5 308.4L300.5 308.7L299.5 299.2L307.9 297.8L315.6 294.0L319.4 298.2L324.4 298.9L330.9 297.5L337.3 309.4L344.0 308.7L347.8 313.1L351.8 314.7M351.8 314.7L348.6 320.4L343.2 320.4L341.9 325.3L337.3 326.7L337.9 334.7M337.9 334.7L327.3 332.6L319.4 334.2L315.4 336.6L310.4 337.7L309.4 332.3L301.5 330.9L294.7 325.3L289.6 326.7L289.6 336.9L283.6 335.0L282.4 335.5M289.6 336.9L294.7 333.1L297.9 336.6L301.5 340.3L306.5 343.2L310.4 347.0M337.9 334.7L330.9 337.9L325.0 341.6L325.0 344.2L327.1 347.5M315.4 336.6L319.4 339.8L325.0 341.6M313.4 348.0L313.0 341.6L318.4 340.3L319.4 339.8M257.8 331.2L263.7 331.7L268.9 333.7L270.7 335.5L274.7 335.5M264.7 337.4L267.7 337.1L270.7 335.5M267.3 341.1L270.7 343.2L273.7 341.4L275.3 344.4M267.7 337.1L270.7 341.6L270.7 343.2M-4.7 316.2L0.3 318.0L9.7 321.5M21.2 331.7L26.4 329.2L29.7 326.7L36.1 326.7L38.5 324.2L39.1 321.8L40.7 319.8L42.5 320.1L43.5 321.0L43.5 324.7L44.6 326.2M35.7 387.6L35.5 391.2M4.7 401.6L7.3 399.5L9.7 397.9L12.8 397.5M7.9 405.5L11.8 405.9M13.4 411.6L14.0 408.7M24.4 410.6L23.4 413.4M36.5 404.0L34.1 405.5L33.1 409.3L34.3 411.2L35.1 413.8L39.1 413.8L44.1 415.4L43.5 419.8L45.0 425.4M45.0 425.4L48.0 426.2L51.0 424.0L50.6 419.6L57.0 418.8L57.6 417.4L56.2 416.0L56.8 414.4L59.0 410.8M57.6 417.4L59.0 417.8L59.4 420.6L60.0 424.4L62.9 424.8L65.9 424.0L69.9 423.2L73.7 422.8L75.5 419.8M64.5 416.0L62.9 419.8L65.9 424.0M70.9 416.2L69.9 423.2M45.0 425.4L39.5 424.4L40.3 429.8L39.1 436.3M21.6 425.0L24.2 427.0L28.5 428.0M39.1 436.3L33.3 432.6L28.5 428.0M18.6 434.7L19.2 436.7L21.2 437.9L22.6 434.7L28.1 430.8L28.5 428.0M39.1 436.3L33.1 437.9L31.1 442.9L33.5 446.7L38.1 447.0L37.9 450.0L40.1 450.0L41.7 453.3L40.1 458.8L41.1 460.7L40.1 463.4L38.3 465.1M40.1 450.0L42.5 450.0L48.4 447.6L48.4 451.4L53.0 453.3L57.0 455.1L58.6 460.9L62.3 460.9L62.5 463.4L63.7 464.9L62.5 468.9M62.5 468.9L60.7 467.2L55.4 467.9L53.8 473.4L50.4 474.8L48.6 473.2L44.6 474.8L42.7 471.9L42.1 467.7L40.1 463.4M44.6 474.8L42.3 478.5L41.9 484.0L39.5 488.6L39.1 494.4L38.1 499.1L38.1 504.0L37.1 508.9L35.7 514.1L35.7 523.4M62.5 468.9L63.1 473.2L67.5 473.9L70.3 477.4L69.7 480.9L69.3 483.4L67.3 484.9L61.7 484.5L63.7 480.7L59.0 477.4L53.8 473.4M69.7 480.9L71.5 483.8L67.3 487.0L63.7 491.3L62.5 496.7L62.1 500.3M63.7 491.3L67.9 493.0L71.3 495.8L72.1 499.6" fill="none" stroke="#eccaca" stroke-opacity=".55" stroke-width=".8" stroke-linejoin="round"/>
<g font-family="Liberation Sans" font-weight="bold" font-size="13" fill="#a1a5aa">
<text x="167.4" y="313.9" style="letter-spacing:1.4px">EUROPE</text>
<text x="337.4" y="314" style="letter-spacing:1.7px">ASIA</text>
<text x="185.3" y="409.5" style="letter-spacing:1.34px">AFRICA</text>
<text x="32" y="466.7" style="letter-spacing:1.4px">SOUTH</text>
<text x="23.3" y="483.3" style="letter-spacing:1.3px">AMERICA</text>
<text x="407.6" y="484.2" font-size="11.6" style="letter-spacing:1.6px">AUSTRALIA</text>
</g>
<g stroke-width="1.2">
<circle cx="188" cy="305.5" r="7" fill="rgba(86,166,75,.68)" stroke="#3d7c37"/>
<circle cx="182.6" cy="316" r="7" fill="rgba(86,166,75,.68)" stroke="#3d7c37"/>
<circle cx="197.8" cy="316" r="7" fill="rgba(86,166,75,.68)" stroke="#3d7c37"/>
<circle cx="202.9" cy="335.9" r="7" fill="rgba(86,166,75,.68)" stroke="#3d7c37"/>
<circle cx="-2.9" cy="363.5" r="7" fill="rgba(86,166,75,.68)" stroke="#2f5d2b"/>
<circle cx="323.1" cy="387.5" r="7" fill="rgba(86,166,75,.68)" stroke="#3d7c37"/>
<circle cx="330.5" cy="402.3" r="7" fill="rgba(86,166,75,.68)" stroke="#3d7c37"/>
<circle cx="338.6" cy="393.9" r="15.8" fill="rgba(224,47,68,.45)" stroke="rgba(216,64,84,.85)"/>
<circle cx="340.4" cy="383.3" r="7" fill="rgba(86,140,60,.62)" stroke="#4a7a35"/>
<circle cx="336.8" cy="401.8" r="7" fill="rgba(160,110,60,.5)" stroke="#c0483f"/>
</g>
</svg>

    <div class="abs" style="left:7.7px;top:7.5px;width:21.3px;height:43.3px;background:rgba(255,255,255,.45);border-radius:4px"></div>
    <div class="abs zb" style="left:9px;top:9px;width:18.5px;height:20px;border-radius:2px 2px 0 0"><svg width="18.5" height="20" viewBox="0 0 18.5 20"><path d="M5.6 10h7.4M9.3 6.3v7.4" stroke="#1f2327" stroke-width="1.7" fill="none"/></svg></div>
    <div class="abs zb" style="left:9px;top:29.8px;width:18.5px;height:19.5px;border-radius:0 0 2px 2px"><svg width="18.5" height="20" viewBox="0 0 18.5 20"><path d="M5.8 10.3h6.6" stroke="#1f2327" stroke-width="1.7" fill="none"/></svg></div>
    <div class="abs" style="left:440.2px;top:285.9px;width:24px;height:24px;background:rgba(255,255,255,.45);border-radius:4px"></div>
    <div class="abs zb" style="left:442.2px;top:287.9px;width:20px;height:20px;border-radius:2px"><svg width="20" height="20" viewBox="0 0 20 20"><path d="M10 8v7.2" stroke="#1f2327" stroke-width="2" fill="none"/><circle cx="10" cy="5.2" r="1.2" fill="#1f2327"/></svg></div>
  </div>
</div>

<!-- Stat panels -->
<div class="panel" style="left:484.5px;top:4px;width:205px;height:111px">
  <div class="title" style="letter-spacing:0.596px">Autointelli Managed</div>
  <div class="stat" style="left:-.6px;right:.6px"><span style="left:1px">20</span></div>
</div>
<div class="panel" style="left:698.5px;top:4px;width:205px;height:111px">
  <div class="title" style="letter-spacing:0.460px">Nagios Managed</div>
  <div class="stat"><span>35</span></div>
</div>
<div class="panel" style="left:912.5px;top:4px;width:205px;height:111px">
  <div class="title" style="letter-spacing:0.721px">Network Nodes</div>
  <svg class="abs" style="left:135.8px;top:7.06px" width="18" height="18" viewBox="-2 -4 18 18" fill="none" stroke="#3d4248" stroke-width="1.3" stroke-linecap="round" stroke-linejoin="round"><path d="M7 .65H2.15a1.5 1.5 0 0 0-1.5 1.5V9.45a1.5 1.5 0 0 0 1.5 1.5H9.95a1.5 1.5 0 0 0 1.5-1.5V4.75M4.8 7.04 13.3-1.41M9.35-1.41H13.3V2.5"/></svg>
  <div class="stat"><span>15</span></div>
</div>
<div class="panel" style="left:1127px;top:4px;width:151.5px;height:111px">
  <div class="title" style="letter-spacing:0.710px">Applications</div>
  <div class="stat"><span>3</span></div>
</div>

<!-- System CPU Performance -->
<div class="panel" style="left:484.5px;top:124px;width:205px;height:151px">
  <div class="title" style="letter-spacing:0.324px">System CPU Perfor...</div>
  <div class="lbl" style="left:8px;top:43.5px;font-size:13.5px;line-height:16px;letter-spacing:.2px">Host Below 10%</div>
  <div class="abs" style="left:8.3px;top:62.3px;width:149.5px;height:23.5px;background:#cbe4c8;border-right:2px solid #56a64b;border-radius:1px"></div>
  <div class="lbl" style="left:170.5px;top:65px;font-size:13px;line-height:16px;color:#56a64b">15</div>
  <div class="lbl" style="left:8px;top:98.5px;font-size:13.5px;line-height:16px;letter-spacing:.45px">Host Above 90%</div>
  <div class="abs" style="left:8.3px;top:117.3px;width:146.5px;height:23.5px;background:#f3f4f4;border-left:2px solid #e02f44;border-radius:1px"></div>
  <div class="lbl" style="left:176.7px;top:120px;font-size:13px;line-height:16px;color:#e02f44">8</div>
</div>

<!-- System Memory Performance -->
<div class="panel" style="left:698.5px;top:124px;width:205px;height:151px">
  <div class="title" style="letter-spacing:0.487px">System Memory Per...</div>
  <svg class="abs" style="left:-1px;top:-1px" width="205" height="151" viewBox="698.5 124 205 151">
    <g fill="none">
      <path d="M723.14 232.13A31.5 31.5 0 1 1 783.06 232.13" stroke="#56a64b" stroke-width="16"/>
      <path d="M821.42 231.98A31 31 0 1 1 880.38 231.98" stroke="#e02f44" stroke-width="16"/>
    </g>
    <text x="736.8" y="236.3" font-size="27" fill="#56a64b" textLength="32" lengthAdjust="spacingAndGlyphs">28</text>
    <text x="838" y="236.3" font-size="27" fill="#e02f44" textLength="23" lengthAdjust="spacingAndGlyphs">11</text>
    <text x="718.2" y="257.2" font-size="8.6" fill="#24292e" textLength="69" lengthAdjust="spacingAndGlyphs">Host Below 10%</text>
    <text x="814.3" y="257.2" font-size="8.6" fill="#24292e" textLength="71.5" lengthAdjust="spacingAndGlyphs">Host Above 90%</text>
  </svg>
</div>

<!-- Filesystem Utilization -->
<div class="panel" style="left:912.5px;top:124px;width:366px;height:151px">
  <div class="title" style="letter-spacing:0.492px">Filesystem Utilization %</div>
  <div class="lbl" style="left:8.4px;top:44.6px;font-size:14.6px;line-height:17px;letter-spacing:.31px">Host Below 10%</div>
  <div class="abs" style="left:8.4px;top:64.4px;width:265px;height:25.2px"><div style="position:absolute;left:0.00px;top:0;width:10.1px;height:100%;border-radius:2px;background:radial-gradient(rgba(86,166,75,.85) 10%,rgba(86,166,75,.62))"></div><div style="position:absolute;left:12.68px;top:0;width:10.1px;height:100%;border-radius:2px;background:rgba(100,169,72,.17)"></div><div style="position:absolute;left:25.36px;top:0;width:10.1px;height:100%;border-radius:2px;background:rgba(114,172,68,.17)"></div><div style="position:absolute;left:38.04px;top:0;width:10.1px;height:100%;border-radius:2px;background:rgba(128,174,64,.17)"></div><div style="position:absolute;left:50.72px;top:0;width:10.1px;height:100%;border-radius:2px;background:rgba(142,177,61,.17)"></div><div style="position:absolute;left:63.40px;top:0;width:10.1px;height:100%;border-radius:2px;background:rgba(156,180,58,.17)"></div><div style="position:absolute;left:76.08px;top:0;width:10.1px;height:100%;border-radius:2px;background:rgba(170,183,54,.17)"></div><div style="position:absolute;left:88.76px;top:0;width:10.1px;height:100%;border-radius:2px;background:rgba(184,186,50,.17)"></div><div style="position:absolute;left:101.44px;top:0;width:10.1px;height:100%;border-radius:2px;background:rgba(198,188,47,.17)"></div><div style="position:absolute;left:114.12px;top:0;width:10.1px;height:100%;border-radius:2px;background:rgba(212,191,44,.17)"></div><div style="position:absolute;left:126.80px;top:0;width:10.1px;height:100%;border-radius:2px;background:rgba(226,194,40,.17)"></div><div style="position:absolute;left:139.48px;top:0;width:10.1px;height:100%;border-radius:2px;background:rgba(227,180,42,.17)"></div><div style="position:absolute;left:152.16px;top:0;width:10.1px;height:100%;border-radius:2px;background:rgba(228,167,44,.17)"></div><div style="position:absolute;left:164.84px;top:0;width:10.1px;height:100%;border-radius:2px;background:rgba(230,153,45,.17)"></div><div style="position:absolute;left:177.52px;top:0;width:10.1px;height:100%;border-radius:2px;background:rgba(231,140,47,.17)"></div><div style="position:absolute;left:190.20px;top:0;width:10.1px;height:100%;border-radius:2px;background:rgba(232,126,49,.17)"></div><div style="position:absolute;left:202.88px;top:0;width:10.1px;height:100%;border-radius:2px;background:rgba(233,112,51,.17)"></div><div style="position:absolute;left:215.56px;top:0;width:10.1px;height:100%;border-radius:2px;background:rgba(234,99,53,.17)"></div><div style="position:absolute;left:228.24px;top:0;width:10.1px;height:100%;border-radius:2px;background:rgba(236,85,54,.17)"></div><div style="position:absolute;left:240.92px;top:0;width:10.1px;height:100%;border-radius:2px;background:rgba(237,72,56,.17)"></div><div style="position:absolute;left:253.60px;top:0;width:10.1px;height:100%;border-radius:2px;background:rgba(238,58,58,.17)"></div></div>
  <div class="lbl" style="left:318px;top:61.3px;font-size:26px;line-height:30px;color:#56a64b">2</div>
  <div class="lbl" style="left:8.4px;top:95.6px;font-size:14.6px;line-height:17px;letter-spacing:.6px">Host Above 90%</div>
  <div class="abs" style="left:8.4px;top:114.3px;width:265px;height:26.4px"><div style="position:absolute;left:0.00px;top:0;width:10.1px;height:100%;border-radius:2px;background:radial-gradient(rgba(86,166,75,.85) 10%,rgba(86,166,75,.62))"></div><div style="position:absolute;left:12.68px;top:0;width:10.1px;height:100%;border-radius:2px;background:radial-gradient(rgba(100,169,72,.85) 10%,rgba(100,169,72,.62))"></div><div style="position:absolute;left:25.36px;top:0;width:10.1px;height:100%;border-radius:2px;background:radial-gradient(rgba(114,172,68,.85) 10%,rgba(114,172,68,.62))"></div><div style="position:absolute;left:38.04px;top:0;width:10.1px;height:100%;border-radius:2px;background:radial-gradient(rgba(128,174,64,.85) 10%,rgba(128,174,64,.62))"></div><div style="position:absolute;left:50.72px;top:0;width:10.1px;height:100%;border-radius:2px;background:radial-gradient(rgba(142,177,61,.85) 10%,rgba(142,177,61,.62))"></div><div style="position:absolute;left:63.40px;top:0;width:10.1px;height:100%;border-radius:2px;background:radial-gradient(rgba(156,180,58,.85) 10%,rgba(156,180,58,.62))"></div><div style="position:absolute;left:76.08px;top:0;width:10.1px;height:100%;border-radius:2px;background:radial-gradient(rgba(170,183,54,.85) 10%,rgba(170,183,54,.62))"></div><div style="position:absolute;left:88.76px;top:0;width:10.1px;height:100%;border-radius:2px;background:radial-gradient(rgba(184,186,50,.85) 10%,rgba(184,186,50,.62))"></div><div style="position:absolute;left:101.44px;top:0;width:10.1px;height:100%;border-radius:2px;background:radial-gradient(rgba(198,188,47,.85) 10%,rgba(198,188,47,.62))"></div><div style="position:absolute;left:114.12px;top:0;width:10.1px;height:100%;border-radius:2px;background:radial-gradient(rgba(212,191,44,.85) 10%,rgba(212,191,44,.62))"></div><div style="position:absolute;left:126.80px;top:0;width:10.1px;height:100%;border-radius:2px;background:radial-gradient(rgba(226,194,40,.85) 10%,rgba(226,194,40,.62))"></div><div style="position:absolute;left:139.48px;top:0;width:10.1px;height:100%;border-radius:2px;background:radial-gradient(rgba(227,180,42,.85) 10%,rgba(227,180,42,.62))"></div><div style="position:absolute;left:152.16px;top:0;width:10.1px;height:100%;border-radius:2px;background:radial-gradient(rgba(228,167,44,.85) 10%,rgba(228,167,44,.62))"></div><div style="position:absolute;left:164.84px;top:0;width:10.1px;height:100%;border-radius:2px;background:radial-gradient(rgba(230,153,45,.85) 10%,rgba(230,153,45,.62))"></div><div style="position:absolute;left:177.52px;top:0;width:10.1px;height:100%;border-radius:2px;background:radial-gradient(rgba(231,140,47,.85) 10%,rgba(231,140,47,.62))"></div><div style="position:absolute;left:190.20px;top:0;width:10.1px;height:100%;border-radius:2px;background:radial-gradient(rgba(232,126,49,.85) 10%,rgba(232,126,49,.62))"></div><div style="position:absolute;left:202.88px;top:0;width:10.1px;height:100%;border-radius:2px;background:radial-gradient(rgba(233,112,51,.85) 10%,rgba(233,112,51,.62))"></div><div style="position:absolute;left:215.56px;top:0;width:10.1px;height:100%;border-radius:2px;background:radial-gradient(rgba(234,99,53,.85) 10%,rgba(234,99,53,.62))"></div><div style="position:absolute;left:228.24px;top:0;width:10.1px;height:100%;border-radius:2px;background:radial-gradient(rgba(236,85,54,.85) 10%,rgba(236,85,54,.62))"></div><div style="position:absolute;left:240.92px;top:0;width:10.1px;height:100%;border-radius:2px;background:radial-gradient(rgba(237,72,56,.85) 10%,rgba(237,72,56,.62))"></div><div style="position:absolute;left:253.60px;top:0;width:10.1px;height:100%;border-radius:2px;background:radial-gradient(rgba(238,58,58,.85) 10%,rgba(238,58,58,.62))"></div></div>
  <div class="lbl" style="left:318px;top:110.5px;font-size:26px;line-height:30px;color:#e02f44">9</div>
</div>

<!-- Least Available System Nodes -->
<div class="panel" style="left:484.5px;top:284px;width:313px;height:231px">
  <div class="title" style="letter-spacing:0.443px">Least Available System Nodes (Top...</div>
<div class="lbl" style="right:195.9px;top:49.1px;font-size:12.3px;line-height:15px;letter-spacing:.25px;text-align:right">AILMDSRV001</div>
<div class="abs" style="left:126.3px;top:42.2px;width:115px;height:27px;background:#f3f4f4;border-radius:2px"></div>
<div class="abs" style="left:126.3px;top:42.2px;width:1.5px;height:27px;background:#56a64b;border-right:2px solid #56a64b;border-radius:1px"></div>
<div class="lbl" style="left:256.2px;top:49.0px;font-size:12.6px;line-height:15px;letter-spacing:.2px;color:#7ba577">93.5%</div>
<div class="lbl" style="right:195.9px;top:87.3px;font-size:12.3px;line-height:15px;letter-spacing:.25px;text-align:right">AIWBSRV001</div>
<div class="abs" style="left:126.3px;top:80.4px;width:115px;height:27px;background:#f3f4f4;border-radius:2px"></div>
<div class="abs" style="left:126.3px;top:80.4px;width:43.0px;height:27px;background:#e6e4a6;border-right:2px solid #c6b83e;border-radius:1px"></div>
<div class="lbl" style="left:256.2px;top:87.2px;font-size:12.6px;line-height:15px;letter-spacing:.2px;color:#b9b244">94.8%</div>
<div class="lbl" style="right:195.9px;top:125.5px;font-size:12.3px;line-height:15px;letter-spacing:.25px;text-align:right">AIFWLOGSRV001</div>
<div class="abs" style="left:126.3px;top:118.6px;width:115px;height:27px;background:#f3f4f4;border-radius:2px"></div>
<div class="abs" style="left:126.3px;top:118.6px;width:62.2px;height:27px;background:#f6e2a9;border-right:2px solid #d9a521;border-radius:1px"></div>
<div class="lbl" style="left:256.2px;top:125.4px;font-size:12.6px;line-height:15px;letter-spacing:.2px;color:#d2a952">95.3%</div>
<div class="lbl" style="right:195.9px;top:163.7px;font-size:12.3px;line-height:15px;letter-spacing:.25px;text-align:right">AIBKPSRV001</div>
<div class="abs" style="left:126.3px;top:156.8px;width:115px;height:27px;background:#f3f4f4;border-radius:2px"></div>
<div class="abs" style="left:126.3px;top:156.8px;width:69.1px;height:27px;background:#f8dbad;border-right:2px solid #e0a030;border-radius:1px"></div>
<div class="lbl" style="left:256.2px;top:163.6px;font-size:12.6px;line-height:15px;letter-spacing:.2px;color:#d9a860">95.5%</div>
<div class="lbl" style="right:195.9px;top:201.9px;font-size:12.3px;line-height:15px;letter-spacing:.25px;text-align:right">AISAUSUSRV001</div>
<div class="abs" style="left:126.3px;top:195.0px;width:115px;height:27px;background:#f3f4f4;border-radius:2px"></div>
<div class="abs" style="left:126.3px;top:195.0px;width:117.0px;height:27px;background:#f4b3ba;border-right:2px solid #c4162a;border-radius:1px"></div>
<div class="lbl" style="left:256.2px;top:201.8px;font-size:12.6px;line-height:15px;letter-spacing:.2px;color:#c2314f">96.9%</div>

</div>

<!-- Least Available Network Nodes -->
<div class="panel" style="left:805.5px;top:284px;width:473px;height:231px">
  <div class="title" style="letter-spacing:0.558px">Least Available Network Nodes (Top 5)</div>
  <svg class="abs" style="left:304.1px;top:7.8px" width="18" height="18" viewBox="-2 -4 18 18" fill="none" stroke="#3d4248" stroke-width="1.3" stroke-linecap="round" stroke-linejoin="round"><path d="M7 .65H2.15a1.5 1.5 0 0 0-1.5 1.5V9.45a1.5 1.5 0 0 0 1.5 1.5H9.95a1.5 1.5 0 0 0 1.5-1.5V4.75M4.8 7.04 13.3-1.41M9.35-1.41H13.3V2.5"/></svg>
<div class="lbl med" style="left:14.6px;top:48.7px;font-size:14.6px;line-height:17px;letter-spacing:.75px">Node</div>
<div class="lbl med" style="left:328.6px;top:48.7px;font-size:14.6px;line-height:17px;letter-spacing:.6px">Availability(%)</div>
<svg class="abs" style="left:436.5px;top:51px" width="13" height="12" viewBox="1243 336 13 12" fill="none" stroke="#24292e" stroke-width="1.5" stroke-linecap="round" stroke-linejoin="round"><path d="M1249.3 338.3V345.6M1245.4 341.9 1249.3 345.7 1253.2 341.9"/></svg>
<div class="abs" style="left:9px;top:72.8px;width:455px;height:1.4px;background:#e9ebec"></div>
<div class="abs" style="left:9px;top:73px;width:456px;height:142px;overflow:hidden">
<div class="abs" style="left:0;top:38px;width:228px;height:1.3px;background:#e9ebec"></div>
<div class="lbl" style="left:5.4px;top:10.8px;font-size:14.4px;line-height:17px;letter-spacing:0.07px">GATEWAYRTR</div>
<div class="abs" style="left:226px;top:0.5px;width:228.4px;height:36.6px;background:linear-gradient(120deg,#66b35c,#56a64b)"></div>
<div class="lbl" style="right:7.6px;top:10.9px;font-size:14.6px;line-height:17px;letter-spacing:1px;color:#fff;-webkit-text-stroke:.2px #fff">98.9</div>
<div class="abs" style="left:0;top:76px;width:228px;height:1.3px;background:#e9ebec"></div>
<div class="lbl" style="left:5.4px;top:48.8px;font-size:14.4px;line-height:17px;letter-spacing:0.55px">SFTRFW002</div>
<div class="abs" style="left:226px;top:38.5px;width:228.4px;height:36.6px;background:linear-gradient(120deg,#66b35c,#56a64b)"></div>
<div class="lbl" style="right:7.6px;top:48.9px;font-size:14.6px;line-height:17px;letter-spacing:1px;color:#fff;-webkit-text-stroke:.2px #fff">97.5</div>
<div class="abs" style="left:0;top:114px;width:228px;height:1.3px;background:#e9ebec"></div>
<div class="lbl" style="left:5.4px;top:86.8px;font-size:14.4px;line-height:17px;letter-spacing:0.25px">SFTRFW001</div>
<div class="abs" style="left:226px;top:76.5px;width:228.4px;height:36.6px;background:linear-gradient(120deg,#66b35c,#56a64b)"></div>
<div class="lbl" style="right:7.6px;top:86.9px;font-size:14.6px;line-height:17px;letter-spacing:1px;color:#fff;-webkit-text-stroke:.2px #fff">95.9</div>
<div class="abs" style="left:0;top:152px;width:228px;height:1.3px;background:#e9ebec"></div>
<div class="lbl" style="left:5.4px;top:124.8px;font-size:14.4px;line-height:17px;letter-spacing:0.80px">RTR3000</div>
<div class="abs" style="left:226px;top:114.5px;width:228.4px;height:36.6px;background:linear-gradient(120deg,#66b35c,#56a64b)"></div>
<div class="lbl" style="right:7.6px;top:124.9px;font-size:14.6px;line-height:17px;letter-spacing:1px;color:#fff;-webkit-text-stroke:.2px #fff">92.8</div>
</div>

</div>

</body>
</html>
